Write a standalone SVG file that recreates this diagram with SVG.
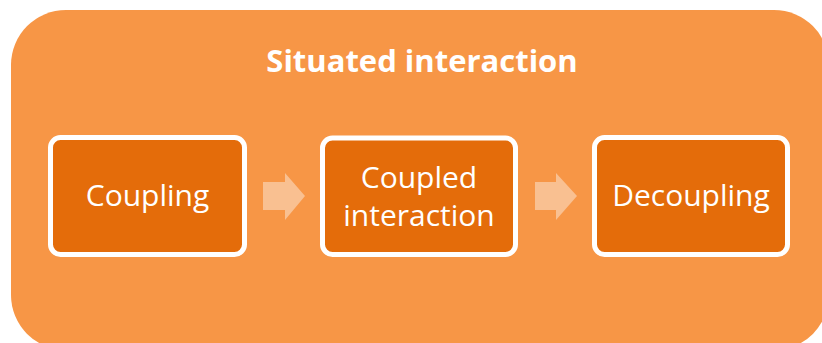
<svg xmlns="http://www.w3.org/2000/svg" width="822" height="343" viewBox="0 0 822 343">
  <style>
    .frame { fill: #F79646; }
    .step { fill: #E46C0A; stroke: #FFFFFF; stroke-width: 5; }
    .flow { fill: #F9C091; }
    .label { fill: #FFFFFF; font-family: "Open Sans", "Liberation Sans", sans-serif; font-size: 30px; text-anchor: middle; }
    .title { fill: #FFFFFF; font-family: "Open Sans", "Liberation Sans", sans-serif; font-size: 31px; font-weight: bold; text-anchor: middle; }
  </style>
  <rect width="822" height="343" fill="#FFFFFF"/>
  <g id="container">
    <rect class="frame" x="11" y="10" width="818" height="340" rx="55" ry="55"/>
    <text class="title" x="422" y="72">Situated interaction</text>
  </g>
  <g id="connectors">
    <polygon class="flow" points="263,182 285,182 285,173 305,196 285,220 285,210 263,210"/>
    <polygon class="flow" points="535,182 556,182 556,173 577,196 556,220 556,210 535,210"/>
  </g>
  <g id="node-coupling">
    <rect class="step" x="50.5" y="137.5" width="194" height="117" rx="10" ry="10"/>
    <text class="label" x="147.5" y="206">Coupling</text>
  </g>
  <g id="node-coupled-interaction">
    <rect class="step" x="322.5" y="138" width="193" height="116.5" rx="10" ry="10"/>
    <text class="label" x="419" y="188">Coupled</text>
    <text class="label" x="419" y="226">interaction</text>
  </g>
  <g id="node-decoupling">
    <rect class="step" x="594.5" y="137.5" width="193" height="117" rx="10" ry="10"/>
    <text class="label" x="691" y="206">Decoupling</text>
  </g>
</svg>
